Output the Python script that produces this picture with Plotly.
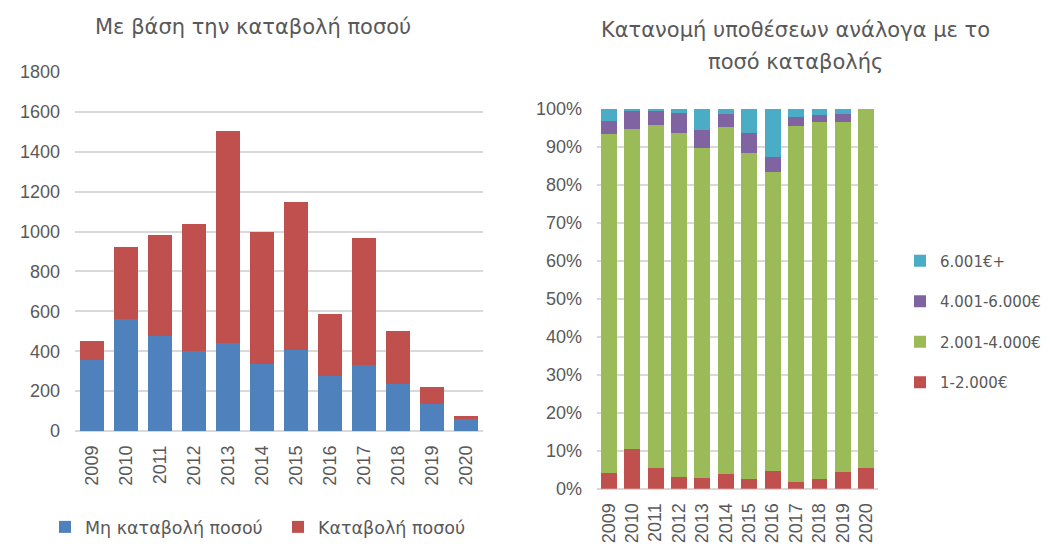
import plotly.graph_objects as go

years = ["2009", "2010", "2011", "2012", "2013", "2014",
         "2015", "2016", "2017", "2018", "2019", "2020"]

# Left chart: counts of cases by payment status
no_payment = [358, 560, 478, 400, 440, 334, 408, 274, 331, 234, 134, 59]
payment = [92, 361, 504, 638, 1065, 664, 739, 311, 637, 266, 85, 15]

# Right chart: share of cases by payment amount band (%)
band_1_2000 = [4.0, 10.4, 5.5, 3.2, 2.9, 3.9, 2.6, 4.6, 1.8, 2.5, 4.5, 5.5]
band_2001_4000 = [89.3, 84.3, 90.2, 90.4, 86.7, 91.3, 85.7, 78.7, 93.6, 94.1, 91.9, 94.5]
band_4001_6000 = [3.4, 4.8, 3.8, 5.2, 4.7, 3.5, 5.4, 4.1, 2.5, 1.7, 2.3, 0.0]
band_6001_plus = [3.3, 0.5, 0.5, 1.2, 5.7, 1.3, 6.3, 12.6, 2.1, 1.7, 1.3, 0.0]

left_names = ["Μη καταβολή ποσού", "Καταβολή ποσού"]
right_names = ["1-2.000€", "2.001-4.000€", "4.001-6.000€", "6.001€+"]

left_title = "Με βάση την καταβολή ποσού"
right_title = ["Κατανομή υποθέσεων ανάλογα με το", "ποσό καταβολής"]

BLUE, RED, GREEN, PURPLE, CYAN = "#4F81BD", "#C0504D", "#9BBB59", "#8064A2", "#4BACC6"
TEXT = "#595959"
GRID = "#D9D9D9"
TITLE_FONT = "DejaVu Sans"
TICK_FONT = "Liberation Sans"

fig = go.Figure()

for vals, name, col in [(no_payment, left_names[0], BLUE), (payment, left_names[1], RED)]:
    fig.add_trace(go.Bar(x=years, y=vals, name=name, marker_color=col,
                         marker_line_width=0, xaxis="x", yaxis="y", legend="legend"))

# stacked bottom-to-top; legend lists the highest band first
bands = [(band_1_2000, right_names[0], RED),
         (band_2001_4000, right_names[1], GREEN),
         (band_4001_6000, right_names[2], PURPLE),
         (band_6001_plus, right_names[3], CYAN)]
for i, (vals, name, col) in enumerate(bands):
    fig.add_trace(go.Bar(x=years, y=vals, name=name, marker_color=col, legendgroup=name,
                         legendrank=len(bands) - i,
                         marker_line_width=0, xaxis="x2", yaxis="y2", legend="legend2"))

W, H = 1051, 544

def px_x(p):
    return p / W

def px_y(p):
    return 1 - p / H

tick_font = dict(family=TICK_FONT, size=18, color=TEXT)

common_x = dict(tickangle=-90, tickfont=tick_font, showgrid=False, showline=False,
                ticks="", automargin=False, ticklabelstandoff=10)
common_y = dict(tickfont=tick_font, gridcolor=GRID, gridwidth=1.5, zeroline=True,
                zerolinecolor=GRID, zerolinewidth=1.5, ticks="", automargin=False,
                ticklabelstandoff=14)

fig.update_layout(
    width=W, height=H,
    margin=dict(l=0, r=0, t=0, b=0, autoexpand=False),
    paper_bgcolor="white", plot_bgcolor="white",
    barmode="stack", bargap=0.32,
    font=dict(family=TITLE_FONT, color=TEXT),
    xaxis=dict(domain=[px_x(75), px_x(483)], anchor="y", **common_x),
    yaxis=dict(domain=[px_y(431), px_y(72)], anchor="x", range=[0, 1800], dtick=200,
               **common_y),
    xaxis2=dict(domain=[px_x(597), px_x(878)], anchor="y2", **common_x),
    yaxis2=dict(domain=[px_y(488.7), px_y(108.7)], anchor="x2", range=[0, 100], dtick=10,
                ticksuffix="%", **common_y),
    legend=dict(orientation="h", x=px_x(45), xanchor="left", y=px_y(527), yanchor="middle",
                font=dict(family=TITLE_FONT, size=17.5, color=TEXT), traceorder="normal",
                entrywidth=188, entrywidthmode="pixels", bgcolor="rgba(0,0,0,0)"),
    legend2=dict(orientation="v", x=px_x(900), xanchor="left", y=px_y(321.5), yanchor="middle",
                 font=dict(family=TITLE_FONT, size=15, color=TEXT),
                 traceorder="grouped", tracegroupgap=18,
                 bgcolor="rgba(0,0,0,0)"),
    showlegend=True,
    annotations=[
        dict(text=left_title, x=px_x(253), y=px_y(27),
             xref="paper", yref="paper", showarrow=False, xanchor="center", yanchor="middle",
             font=dict(family=TITLE_FONT, size=21, color=TEXT)),
        dict(text=right_title[0], x=px_x(795), y=px_y(30),
             xref="paper", yref="paper", showarrow=False, xanchor="center", yanchor="middle",
             font=dict(family=TITLE_FONT, size=21, color=TEXT)),
        dict(text=right_title[1], x=px_x(795), y=px_y(62),
             xref="paper", yref="paper", showarrow=False, xanchor="center", yanchor="middle",
             font=dict(family=TITLE_FONT, size=21, color=TEXT)),
    ],
)

fig.write_html("out.html")
